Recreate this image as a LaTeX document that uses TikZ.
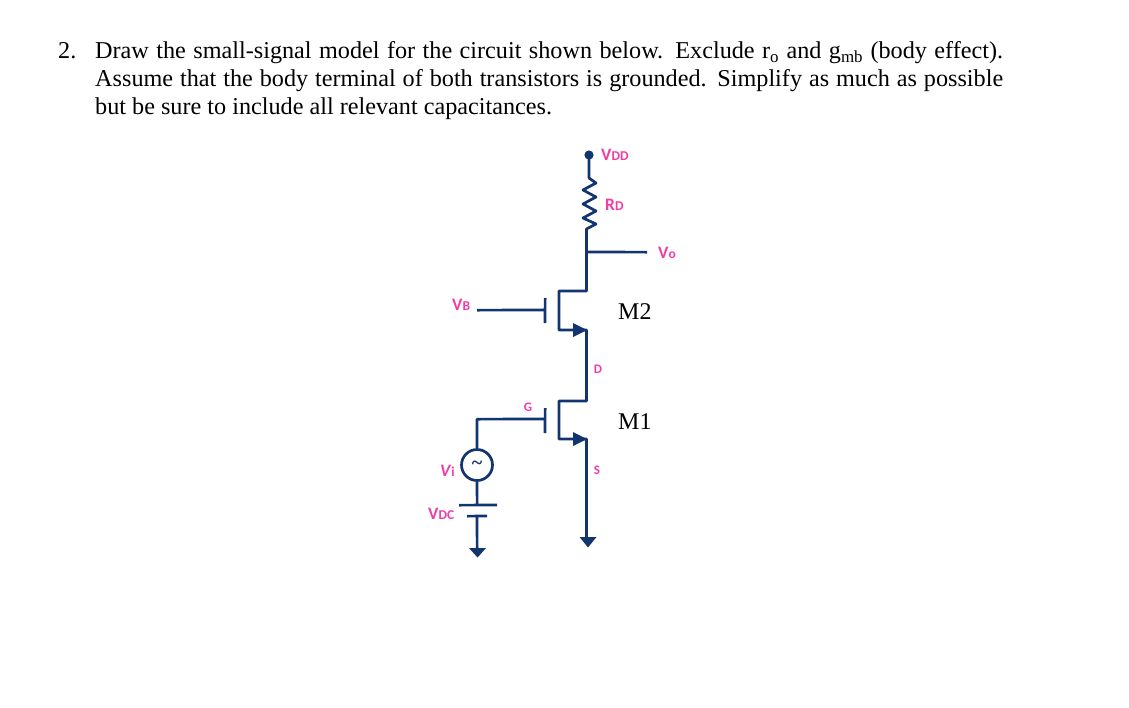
\documentclass[tikz,border=0pt]{standalone}
\usepackage{fontspec}
\setmainfont{Liberation Serif}
\newfontfamily\labelfont{Carlito}
\usetikzlibrary{arrows.meta}
\definecolor{wirecol}{HTML}{12356F}
\definecolor{labelcol}{HTML}{EE3FA5}
\tikzset{
  wire/.style={draw=wirecol,line width=2.7pt,line join=round},
  gnd/.style={fill=wirecol,draw=none},
  plabel/.style={text=labelcol,font=\labelfont\bfseries\fontsize{17.5}{17.5}\selectfont,inner sep=0pt,anchor=west},
  slabel/.style={text=labelcol,font=\labelfont\bfseries\fontsize{13}{13}\selectfont,inner sep=0pt},
  mlabel/.style={font=\fontsize{24}{24}\selectfont,inner sep=0pt,anchor=west},
  body/.style={font=\fontsize{24.2}{28}\selectfont,inner sep=0pt},
  tip/.style={fill=wirecol,draw=none}
}
\newcommand{\subl}[1]{{\fontsize{13.5}{13.5}\selectfont #1}}
\begin{document}
\begin{tikzpicture}[x=1pt,y=-1pt]
\useasboundingbox (0,0) rectangle (1129,707);
\fill[white] (0,0) rectangle (1129,707);
\node[body,anchor=base west] (num) at (58,58.5) {2.};
\node[body,anchor=north west,text width=908pt,align=justify] (text) at (95,41.5) {Draw the small-signal model for the circuit shown below. Exclude r\textsubscript{o} and g\textsubscript{mb} (body effect). Assume that the body terminal of both transistors is grounded. Simplify as much as possible but be sure to include all relevant capacitances.};
% named points
\coordinate (vdd) at (589,155);
\coordinate (rtop) at (589,178);
\coordinate (rbot) at (586.5,229);
\coordinate (vo) at (586.5,252);
\coordinate (voend) at (647,252.15);
\coordinate (d2r) at (586.5,291);
\coordinate (d2l) at (559,291);
\coordinate (s2l) at (559,330);
\coordinate (s2r) at (586.5,330);
\coordinate (d1r) at (586.5,401);
\coordinate (d1l) at (559,401);
\coordinate (s1l) at (559,439);
\coordinate (s1r) at (586.5,439);
\coordinate (g2a) at (477,310.15);
\coordinate (g2b) at (545,310);
\coordinate (g1b) at (545,419);
\coordinate (g1c) at (477,419.15);
\coordinate (b2t) at (545.15,298);
\coordinate (b2b) at (545,323);
\coordinate (b1t) at (545.15,408);
\coordinate (b1b) at (545,433);
\node[circle,draw=wirecol,line width=2.7pt,minimum size=31pt,inner sep=0pt] (src) at (477,465) {};
\node[text=wirecol,inner sep=0pt,font=\bfseries\fontsize{20}{20}\selectfont] (tilde) at (477,465) {\textasciitilde};
\coordinate (p1) at (477.15,505);
\coordinate (p2) at (477,516);
\coordinate (p1l) at (459,505.15);
\coordinate (p1r) at (497,505);
\coordinate (p2l) at (467,516.15);
\coordinate (p2r) at (487,516);
\coordinate (gb) at (477.15,549);
% supply and resistor
\fill[wirecol] (vdd) circle (4.6pt);
\draw[wire] (vdd) -- (rtop) -- (596,183) -- (583,190) -- (596,197) -- (583,204) -- (596,211) -- (583,218) -- (596,224) -- (rbot) -- (vo) -- (d2r) -- (d2l) -- (s2l) -- (s2r) -- (d1r) -- (d1l) -- (s1l) -- (s1r) -- (586.5,538);
\draw[wire] (vo) -- (voend);
% gates
\draw[wire] (g2a) -- (g2b);
\draw[wire] (b2t) -- (b2b);
\draw[wire] (g1b) -- (g1c) -- (src.north);
\draw[wire] (b1t) -- (b1b);
% source arrows
\fill[tip] (587,330) -- (573,323) -- (573,337) -- cycle;
\fill[tip] (587,439) -- (573,432) -- (573,446) -- cycle;
% grounds
\fill[gnd] (579.5,537) -- (596.5,537) -- (588,547.5) -- cycle;
\draw[wire] (src.south) -- (p1);
\draw[wire] (p1l) -- (p1r);
\draw[wire] (p2l) -- (p2r);
\draw[wire] (p2) -- (gb);
\fill[gnd] (469,548) -- (486,548) -- (477.5,557.5) -- cycle;
% labels
\node[plabel] (lvdd) at (601,155) {V\subl{DD}};
\node[plabel] (lrd) at (605,205) {R\subl{D}};
\node[plabel] (lvo) at (658,253) {V\subl{o}};
\node[plabel] (lvb) at (452,305) {V\subl{B}};
\node[plabel] (lvi) at (440,471) {\textit{V}\subl{i}};
\node[plabel] (lvdc) at (428,514) {V\subl{DC}};
\node[slabel] (ld) at (598,369) {D};
\node[slabel] (lg) at (528,407) {G};
\node[slabel] (ls) at (597,470) {S};
\node[mlabel] (m2) at (618,312) {M2};
\node[mlabel] (m1) at (618,422) {M1};
\end{tikzpicture}
\end{document}
